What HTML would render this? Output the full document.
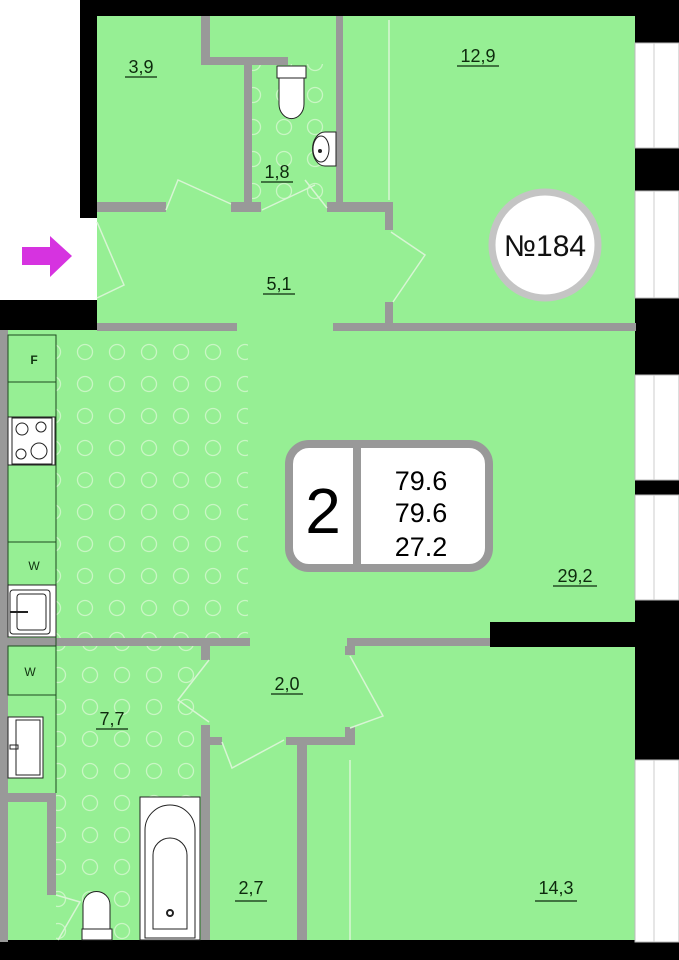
<!DOCTYPE html>
<html><head><meta charset="utf-8"><style>
html,body{margin:0;padding:0;background:#fff;}
svg{display:block}
text{font-family:"Liberation Sans",sans-serif;}
.lb{font-size:18px;fill:#0d2a0d;}
</style></head><body>
<svg width="679" height="960" viewBox="0 0 679 960" xmlns="http://www.w3.org/2000/svg">
<defs>
<pattern id="dots" x="69" y="336" width="32" height="32" patternUnits="userSpaceOnUse">
<circle cx="16" cy="16" r="7.5" fill="none" stroke="#c9f6c4" stroke-width="1.3"/>
</pattern>
<pattern id="dots2" x="74" y="659" width="32" height="32" patternUnits="userSpaceOnUse">
<circle cx="16" cy="16" r="7.5" fill="none" stroke="#c9f6c4" stroke-width="1.3"/>
</pattern>
<pattern id="dots3" x="237" y="79" width="31" height="32" patternUnits="userSpaceOnUse">
<circle cx="16" cy="16" r="7.5" fill="none" stroke="#c9f6c4" stroke-width="1.3"/>
</pattern>
</defs>
<!-- green floor -->
<rect x="97" y="16" width="538" height="316" fill="#96ef94"/>
<rect x="8" y="330" width="627" height="612" fill="#96ef94"/>
<!-- patterns -->
<rect x="56" y="336" width="192" height="302" fill="url(#dots)"/>
<rect x="56" y="646" width="145" height="294" fill="url(#dots2)"/>
<rect x="252" y="64" width="84" height="140" fill="url(#dots3)"/>
<!-- black walls -->
<rect x="80" y="0" width="599" height="16" fill="#000"/>
<rect x="80" y="0" width="17" height="218" fill="#000"/>
<rect x="0" y="300" width="97" height="30" fill="#000"/>
<rect x="635" y="0" width="44" height="960" fill="#000"/>
<rect x="0" y="940" width="679" height="20" fill="#000"/>
<rect x="490" y="622" width="189" height="25" fill="#000"/>
<!-- entrance opening -->
<rect x="80" y="218" width="17" height="82" fill="#fff"/>
<!-- windows -->
<g fill="#fff" stroke="#bbb" stroke-width="1">
<rect x="635" y="43" width="44" height="105"/>
<rect x="635" y="191" width="44" height="107"/>
<rect x="635" y="375" width="44" height="105"/>
<rect x="635" y="495" width="44" height="105"/>
<rect x="635" y="760" width="44" height="182"/>
</g>
<g stroke="#ccc" stroke-width="1">
<line x1="654" y1="43" x2="654" y2="148"/><line x1="654" y1="191" x2="654" y2="298"/>
<line x1="654" y1="375" x2="654" y2="480"/><line x1="654" y1="495" x2="654" y2="600"/>
<line x1="654" y1="760" x2="654" y2="942"/>
</g>
<!-- gray walls -->
<g fill="#999">
<rect x="201" y="16" width="9" height="48"/>
<rect x="201" y="57" width="87" height="8"/>
<rect x="244" y="62" width="8" height="150"/>
<rect x="336" y="16" width="7" height="196"/>
<rect x="97" y="202" width="69" height="10"/>
<rect x="231" y="202" width="30" height="10"/>
<rect x="327" y="202" width="63" height="10"/>
<rect x="385" y="202" width="8" height="28"/>
<rect x="97" y="323" width="140" height="8"/>
<rect x="333" y="323" width="303" height="8"/>
<rect x="385" y="302" width="8" height="23"/>
<rect x="0" y="330" width="8" height="612"/>
<rect x="8" y="638" width="242" height="8"/>
<rect x="347" y="638" width="143" height="8"/>
<rect x="201" y="646" width="9" height="14"/>
<rect x="345" y="646" width="10" height="9"/>
<rect x="201" y="725" width="9" height="215"/>
<rect x="210" y="737" width="12" height="8"/>
<rect x="286" y="737" width="69" height="8"/>
<rect x="345" y="727" width="10" height="18"/>
<rect x="297" y="745" width="10" height="195"/>
<rect x="8" y="793" width="48" height="9"/>
<rect x="47" y="793" width="9" height="102"/>
</g>
<!-- door swings -->
<g stroke="#d8f5d4" stroke-width="1.5" fill="none">
<polyline points="97,222 124,285 97,298"/>
<polyline points="166,210 178,180 231,204"/>
<polyline points="262,210 315,185"/>
<polyline points="327,208 305,180"/>
<polyline points="391,232 425,255 393,302"/>
<polyline points="209,660 178,700 209,722"/>
<polyline points="222,742 232,768 284,740"/>
<polyline points="350,656 383,716 350,728"/>
<polyline points="56,895 80,902 58,940"/>
<line x1="389" y1="20" x2="389" y2="200"/>
<line x1="350" y1="760" x2="350" y2="940"/>
</g>
<!-- kitchen cabinets -->
<g fill="none" stroke="#1f4a1f" stroke-width="1">
<line x1="56" y1="335" x2="56" y2="793"/>
<rect x="8" y="335" width="48" height="47"/>
<rect x="8" y="382" width="48" height="35"/>
<rect x="8" y="465" width="48" height="77"/>
<rect x="8" y="542" width="48" height="43"/>
<rect x="8" y="646" width="48" height="49"/>
</g>
<rect x="8" y="417" width="47" height="48" fill="#fff" stroke="#222"/>
<rect x="12" y="418" width="40" height="46" fill="none" stroke="#222"/>
<g fill="none" stroke="#222"><circle cx="22" cy="429" r="6"/><circle cx="41" cy="427" r="5"/><circle cx="21" cy="454" r="5"/><circle cx="39" cy="451" r="8"/></g>
<rect x="8" y="585" width="48" height="52" fill="#fff" stroke="#222"/>
<rect x="10" y="590" width="40" height="44" rx="3" fill="none" stroke="#222"/>
<rect x="17" y="594" width="29" height="36" rx="3" fill="none" stroke="#222"/>
<line x1="10" y1="612" x2="28" y2="612" stroke="#222" stroke-width="2"/>
<text x="34" y="364" font-size="12" font-weight="bold" text-anchor="middle" fill="#113311">F</text>
<text x="34" y="570" font-size="12" text-anchor="middle" fill="#113311">W</text>
<text x="30" y="676" font-size="12" text-anchor="middle" fill="#113311">W</text>
<!-- bathroom sink -->
<rect x="8" y="717" width="35" height="61" fill="#fff" stroke="#222"/>
<rect x="16" y="720" width="24" height="55" fill="none" stroke="#222"/>
<rect x="10" y="745" width="8" height="4" fill="none" stroke="#222"/>
<!-- bathtub -->
<rect x="140" y="797" width="60" height="143" fill="#fff" stroke="#222"/>
<path d="M145 938 V830 A25 25 0 0 1 195 830 V938 Z" fill="none" stroke="#222"/>
<path d="M153 929 V855 A17 17 0 0 1 187 855 V929 Z" fill="none" stroke="#222"/>
<circle cx="170" cy="913" r="3" fill="none" stroke="#222" stroke-width="2"/>
<!-- toilet bottom -->
<path d="M83 930 V905 A13 13 0 0 1 110 905 V930 Z" fill="#fff" stroke="#222"/>
<rect x="82" y="929" width="30" height="11" fill="#fff" stroke="#222"/>
<!-- WC toilet & sink -->
<rect x="277" y="66" width="29" height="12" fill="#fff" stroke="#222"/>
<path d="M279 78 V104 A12 14 0 0 0 304 104 V78 Z" fill="#fff" stroke="#222"/>
<path d="M336 132 H325 A11 15 0 0 0 325 166 H336 Z" fill="#fff" stroke="#222"/>
<ellipse cx="321" cy="149" rx="8" ry="13" fill="none" stroke="#222"/>
<circle cx="320" cy="151" r="2" fill="#222"/>
<!-- arrow -->
<path d="M22 247 H50 V236 L72 256 L50 277 V265 H22 Z" fill="#d633e0"/>
<!-- № circle -->
<circle cx="545" cy="245" r="53" fill="#fff" stroke="#c4c4c4" stroke-width="7"/>
<text x="545" y="256" font-size="30" text-anchor="middle" fill="#111">№184</text>
<!-- center box -->
<rect x="289" y="444" width="200" height="124" rx="20" fill="#fff" stroke="#999" stroke-width="8"/>
<rect x="353" y="444" width="8" height="124" fill="#999"/>
<text x="323" y="533" font-size="64" text-anchor="middle" fill="#000">2</text>
<text x="421" y="490" font-size="27" text-anchor="middle" fill="#000">79.6</text>
<text x="421" y="522" font-size="27" text-anchor="middle" fill="#000">79.6</text>
<text x="421" y="556" font-size="27" text-anchor="middle" fill="#000">27.2</text>
<!-- labels -->
<g class="lb" text-anchor="middle">
<text x="141" y="73">3,9</text>
<text x="478" y="62">12,9</text>
<text x="277" y="178">1,8</text>
<text x="279" y="290">5,1</text>
<text x="575" y="582">29,2</text>
<text x="287" y="690">2,0</text>
<text x="112" y="725">7,7</text>
<text x="251" y="894">2,7</text>
<text x="556" y="894">14,3</text>
</g>
<g stroke="#0d2a0d" stroke-width="1.3">
<line x1="125" y1="77" x2="157" y2="77"/>
<line x1="457" y1="66" x2="499" y2="66"/>
<line x1="261" y1="182" x2="293" y2="182"/>
<line x1="263" y1="294" x2="295" y2="294"/>
<line x1="553" y1="586" x2="597" y2="586"/>
<line x1="271" y1="694" x2="303" y2="694"/>
<line x1="96" y1="729" x2="128" y2="729"/>
<line x1="235" y1="901" x2="267" y2="901"/>
<line x1="535" y1="901" x2="577" y2="901"/>
</g>
</svg>
</body></html>
